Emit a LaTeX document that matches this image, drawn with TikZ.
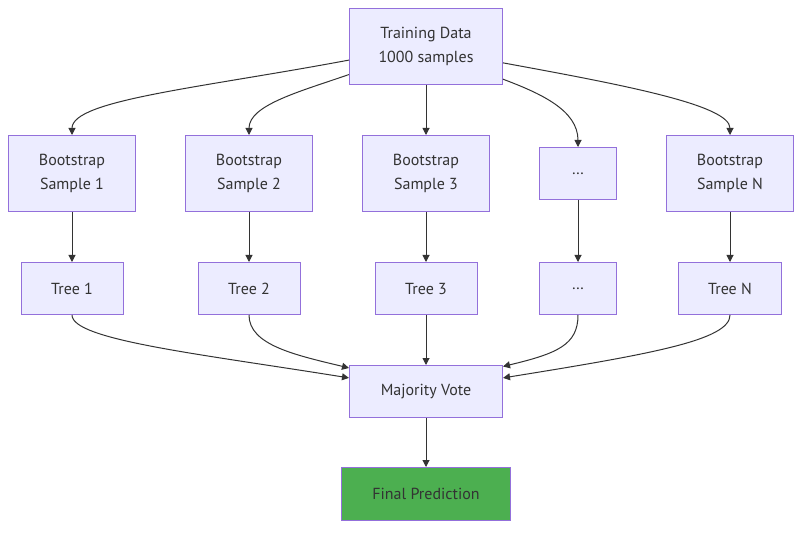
\documentclass[tikz,border=0pt]{standalone}
\usepackage{fontspec}
\setmainfont{PT Sans}
\usetikzlibrary{positioning,arrows.meta}
\definecolor{nodefill}{HTML}{ECECFF}
\definecolor{nodeline}{HTML}{9370DB}
\definecolor{linkcol}{HTML}{333333}
\definecolor{finfill}{HTML}{4CAF50}

\begin{document}
\begin{tikzpicture}[x=1pt, y=1pt, node distance=50pt and 49pt, box/.style={rectangle, draw=nodeline, fill=nodefill, line width=1pt, text=linkcol, align=center, inner sep=0pt, minimum height=52pt, font=\fontsize{16}{24}\selectfont}, big/.style={minimum height=76pt}, fin/.style={fill=finfill, minimum height=53pt}, s/.style={draw=linkcol, line width=1pt, -{Triangle[length=7pt, width=7pt]}}]
		\useasboundingbox (0,0) rectangle (810,-534);
		\node[box, big, minimum width=153pt] (Data) at (426,-46.5) {Training Data\\1000 samples};
		\node[box, big, minimum width=127pt, below=of Data] (S3) {Bootstrap\\Sample 3};
		\node[box, big, minimum width=127pt, left=of S3] (S2) {Bootstrap\\Sample 2};
		\node[box, big, minimum width=127pt, left=of S2] (S1) {Bootstrap\\Sample 1};
		\node[box, minimum width=77pt, right=of S3] (SX) {…};
		\node[box, big, minimum width=127pt, right=of SX] (SN) {Bootstrap\\Sample N};
		\node[box, minimum width=102pt, below=of S1] (T1) {Tree 1};
		\node[box, minimum width=102pt, below=of S2] (T2) {Tree 2};
		\node[box, minimum width=102pt, below=of S3] (T3) {Tree 3};
		\node[box, minimum width=77pt] (TX) at (T3 -| SX) {…};
		\node[box, minimum width=103pt, below=of SN] (TN) {Tree N};
		\node[box, minimum width=153pt, below=of T3] (Vote) {Majority Vote};
		\node[box, fin, minimum width=169pt, below=49pt of Vote] (Pred) {Final Prediction};

		\draw[s] (Data.190) .. controls +(-149,-28) and +(0,35) .. (S1.north);
		\draw[s] (Data.200) .. controls +(-49,-17) and +(0,30) .. (S2.north);
		\draw[s] (Data) -- (S3);
		\draw[s] (Data.337) .. controls +(37,-14) and +(0,37) .. (SX.north);
		\draw[s] (Data.348) .. controls +(120,-22) and +(0,30) .. (SN.north);
		\draw[s] (S1) -- (T1);
		\draw[s] (S2) -- (T2);
		\draw[s] (S3) -- (T3);
		\draw[s] (SX) -- (TX);
		\draw[s] (SN) -- (TN);
		\draw[s] (T1.south) .. controls +(0,-25) and +(-149,24) .. (Vote.170);
		\draw[s] (T2.south) .. controls +(0,-30) and +(-54,13) .. (Vote.163);
		\draw[s] (T3) -- (Vote);
		\draw[s] (TX.south) .. controls +(0,-30) and +(54,13) .. (Vote.18);
		\draw[s] (TN.south) .. controls +(0,-25) and +(149,24) .. (Vote.10);
		\draw[s] (Vote) -- (Pred);
	\end{tikzpicture}
\end{document}
